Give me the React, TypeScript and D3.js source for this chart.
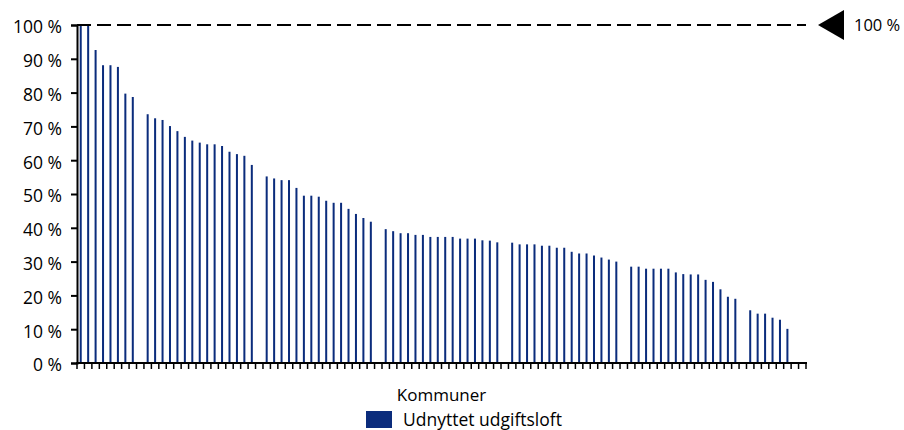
import React, { useEffect, useRef } from "react";
import * as d3 from "d3";

// Udnyttet udgiftsloft pr. kommune, sorteret faldende (null = ingen synlig søjle)
const utilisation: (number | null)[] = [
  100, 100, 92.6, 88.1, 88.1, 87.6, 79.7, 78.7, null, 73.6,
  72.4, 71.9, 70.1, 68.6, 66.9, 65.8, 65.2, 64.7, 64.7, 64.2,
  62.5, 61.8, 61.3, 58.6, null, 55.2, 54.6, 54.1, 54.1, 51.8,
  49.5, 49.5, 49.2, 48.0, 47.4, 47.4, 45.6, 44.1, 42.9, 41.8,
  null, 39.6, 39.0, 38.4, 38.4, 37.9, 37.9, 37.3, 37.3, 37.3,
  37.3, 36.8, 36.8, 36.8, 36.3, 36.2, 35.7, null, 35.6, 35.1,
  35.1, 35.1, 34.7, 34.7, 34.1, 34.1, 32.9, 32.4, 32.4, 31.8,
  31.2, 30.6, 30.0, null, 28.5, 28.5, 27.9, 27.9, 27.9, 27.9,
  26.8, 26.3, 26.2, 26.2, 24.6, 24.0, 21.8, 19.6, 19.0, null,
  15.6, 14.6, 14.6, 13.4, 12.8, 10.1, null, null,
];
const kommuner = utilisation.map((_, i) => `K${i + 1}`);
const yTicks = [0, 10, 20, 30, 40, 50, 60, 70, 80, 90, 100];
const ceiling = 100;
const seriesName = "Udnyttet udgiftsloft";
const xTitle = "Kommuner";

const BAR = "#0b2c7c";
const FONT = "'Open Sans', sans-serif";

export default function App() {
  const svgRef = useRef<SVGSVGElement>(null);

  useEffect(() => {
    if (!svgRef.current) return;
    const svg = d3.select(svgRef.current);
    svg.selectAll("*").remove();

    const left = 77, right = 806, top = 25, bottom = 363;

    const x = d3.scaleBand<string>()
      .domain(kommuner)
      .range([left, right])
      .paddingInner(0.73)
      .paddingOuter(0.365);

    const y = d3.scaleLinear().domain([0, 100]).range([bottom, top]);

    // bars
    svg.append("g")
      .selectAll("rect")
      .data(kommuner.map((k, i) => ({ k, v: utilisation[i] })).filter(d => d.v !== null))
      .join("rect")
      .attr("x", d => x(d.k)!)
      .attr("width", x.bandwidth())
      .attr("y", d => y(d.v as number))
      .attr("height", d => bottom - y(d.v as number))
      .attr("fill", BAR);

    // y axis
    const yAxis = svg.append("g")
      .attr("transform", `translate(${left},0)`)
      .call(d3.axisLeft(y).tickValues(yTicks).tickSize(6).tickPadding(9).tickFormat(d => `${d} %`));
    yAxis.select(".domain").attr("stroke", "#000").attr("stroke-width", 2);
    yAxis.selectAll(".tick line").attr("stroke", "#000").attr("stroke-width", 2);
    yAxis.selectAll(".tick text")
      .attr("font-family", FONT)
      .attr("font-size", 17.5)
      .attr("fill", "#000")
      .attr("dy", "0.45em");

    // x axis with a tick at every category boundary
    const step = x.step();
    const first = x(kommuner[0])! + x.bandwidth() / 2 - step / 2;
    const boundaries = d3.range(kommuner.length + 1).map(i => first + i * step);
    svg.append("g")
      .selectAll("line")
      .data(boundaries)
      .join("line")
      .attr("x1", d => d).attr("x2", d => d)
      .attr("y1", bottom).attr("y2", bottom + 6)
      .attr("stroke", "#000")
      .attr("stroke-width", 1.5);
    svg.append("line")
      .attr("x1", left - 1).attr("x2", boundaries[boundaries.length - 1] + 1)
      .attr("y1", bottom).attr("y2", bottom)
      .attr("stroke", "#000")
      .attr("stroke-width", 2);

    // 100 % ceiling line + marker
    svg.append("line")
      .attr("x1", left).attr("x2", right)
      .attr("y1", y(ceiling)).attr("y2", y(ceiling))
      .attr("stroke", "#000")
      .attr("stroke-width", 2)
      .attr("stroke-dasharray", "14,6");
    const cy = y(ceiling);
    svg.append("path")
      .attr("d", `M818,${cy} L844,${cy - 15} L844,${cy + 15} Z`)
      .attr("fill", "#000");
    svg.append("text")
      .attr("x", 854).attr("y", cy)
      .attr("dy", "0.35em")
      .attr("font-family", FONT)
      .attr("font-size", 16.5)
      .text(`${ceiling} %`);

    // x title
    svg.append("text")
      .attr("x", (left + right) / 2).attr("y", 395)
      .attr("dy", "0.35em")
      .attr("text-anchor", "middle")
      .attr("font-family", FONT)
      .attr("font-size", 17)
      .text(xTitle);

    // legend
    svg.append("rect")
      .attr("x", 366).attr("y", 411)
      .attr("width", 26).attr("height", 17)
      .attr("fill", BAR);
    svg.append("text")
      .attr("x", 403).attr("y", 420)
      .attr("dy", "0.35em")
      .attr("font-family", FONT)
      .attr("font-size", 17.5)
      .text(seriesName);
  }, []);

  return (
    <svg
      ref={svgRef}
      width={904}
      height={430}
      style={{ position: "absolute", left: 0, top: 0, background: "#fff" }}
    />
  );
}
